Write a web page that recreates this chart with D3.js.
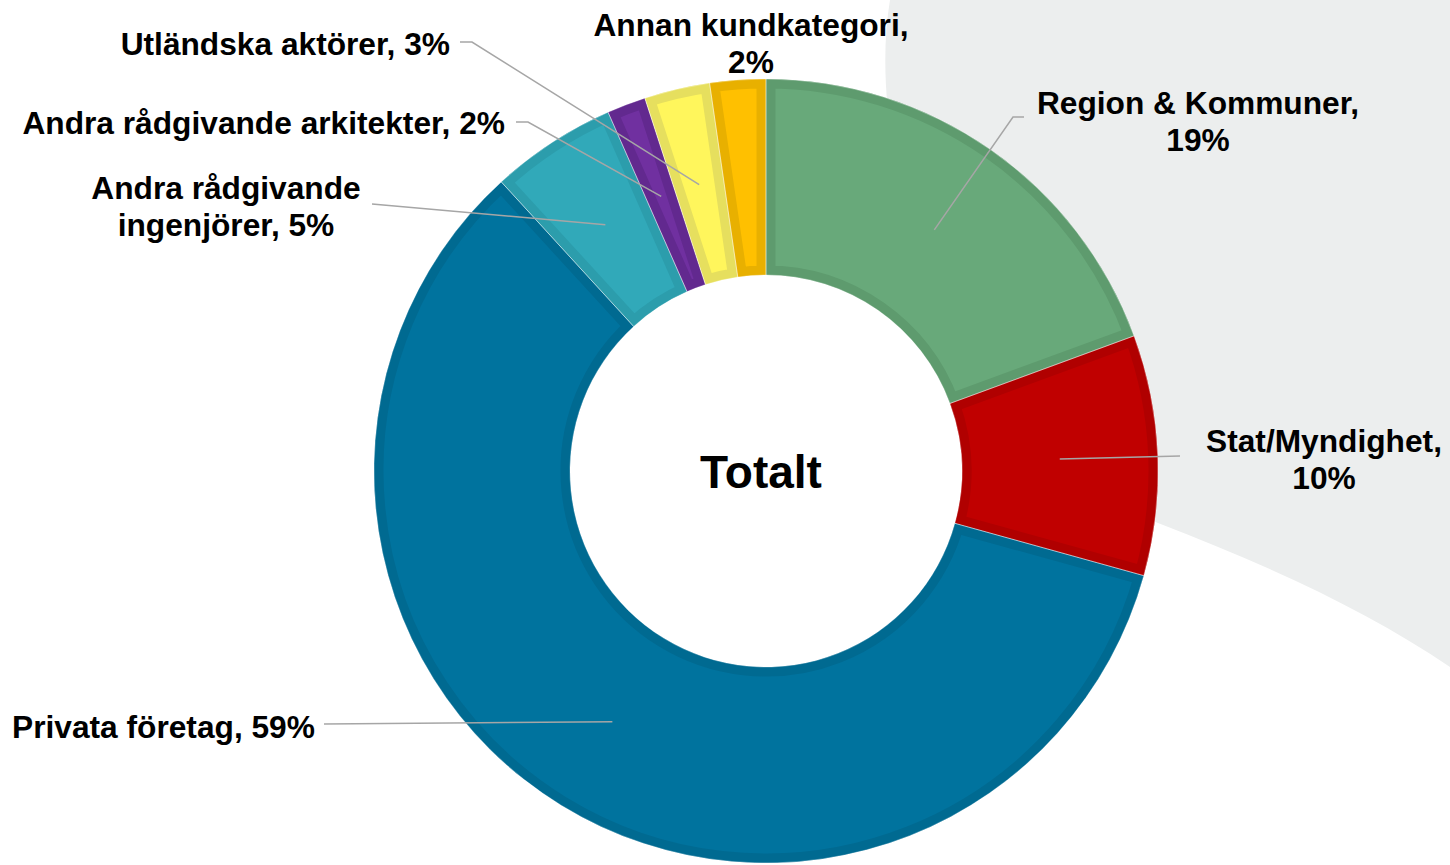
<!DOCTYPE html>
<html>
<head>
<meta charset="utf-8">
<script src="https://cdn.jsdelivr.net/npm/d3@7"></script>
<style>
  html, body { margin: 0; padding: 0; background: #fff; }
  text { font-family: "Liberation Sans", Arial, sans-serif; font-weight: bold; fill: #000; }
</style>
</head>
<body>
<svg id="chart" width="1450" height="865"></svg>
<script>
// data (share of total, %)
var categories = ["Region & Kommuner", "Stat/Myndighet", "Privata företag", "Andra rådgivande ingenjörer",
                  "Andra rådgivande arkitekter", "Utländska aktörer", "Annan kundkategori"];
var values = [19.4, 9.9, 58.9, 5.2, 1.6, 2.7, 2.3];
var fills = ["#68a97a", "#c00000", "#00739e", "#31a9b9", "#7030a0", "#fff65c", "#ffc000"];
var borders = ["#5e9b6e", "#b00000", "#006a91", "#2c9dac", "#62298f", "#e6df5e", "#e8b000"];
var centerLabel = "Totalt";

// label placement (x, y of first baseline, anchor, words on first line, leader start / elbow)
var labelLayout = [
  { x: 1198, y: 114, anchor: "middle", firstWords: 3, line: [[1024, 117], [1013, 117]] },
  { x: 1324, y: 452, anchor: "middle", firstWords: 1, line: [[1180, 456]] },
  { x: 12,   y: 738, anchor: "start",  firstWords: 0, line: [[324, 724]] },
  { x: 226,  y: 199, anchor: "middle", firstWords: 2, line: [[372, 204]] },
  { x: 505,  y: 134, anchor: "end",    firstWords: 0, line: [[516, 122], [528, 122]] },
  { x: 450,  y: 55,  anchor: "end",    firstWords: 0, line: [[460, 42], [472, 42]] },
  { x: 751,  y: 36,  anchor: "middle", firstWords: 2, line: null }
];

var svg = d3.select("#chart");
var cx = 766, cy = 471, outerR = 392, innerR = 196;

// grey backdrop shape on the right
svg.append("path")
    .attr("d", "M890,0 C862,170 960,440 1158,523 C1270,566 1370,612 1450,667 L1450,0 Z")
    .attr("fill", "#eceeee");

var data = categories.map(function(c, i) { return { cat: c, value: values[i], i: i }; });

var pie = d3.pie().sort(null).value(function(d) { return d.value; });
var arc = d3.arc().innerRadius(innerR).outerRadius(outerR);

var g = svg.append("g").attr("transform", "translate(" + cx + "," + cy + ")");
var arcs = pie(data);

var defs = svg.append("defs");
defs.selectAll("clipPath")
    .data(arcs)
    .enter().append("clipPath")
      .attr("id", function(d) { return "clip" + d.data.i; })
    .append("path")
      .attr("d", arc);

// slices: fill plus a darker inner border (stroke clipped to the slice)
g.selectAll(".slice")
    .data(arcs)
    .enter().append("path")
      .attr("class", "slice")
      .attr("d", arc)
      .attr("clip-path", function(d) { return "url(#clip" + d.data.i + ")"; })
      .attr("fill", function(d) { return fills[d.data.i]; })
      .attr("stroke", function(d) { return borders[d.data.i]; })
      .attr("stroke-width", 19)
      .attr("stroke-linejoin", "miter");

g.selectAll(".sep")
    .data(arcs)
    .enter().append("path")
      .attr("class", "sep")
      .attr("d", arc)
      .attr("fill", "none")
      .attr("stroke", "#ffffff")
      .attr("stroke-opacity", 0.35)
      .attr("stroke-width", 1);

// leader lines, ending at the middle of each slice
arcs.forEach(function(d) {
  var lay = labelLayout[d.data.i];
  if (!lay.line) return;
  var c = arc.centroid(d);
  var pts = lay.line.concat([[c[0] + cx, c[1] + cy]]);
  svg.append("path")
      .attr("d", d3.line()(pts))
      .attr("fill", "none")
      .attr("stroke", "#a6a6a6")
      .attr("stroke-width", 1.5);
});

// labels
arcs.forEach(function(d) {
  var lay = labelLayout[d.data.i];
  var full = d.data.cat + ", " + Math.round(d.data.value) + "%";
  var words = full.split(" ");
  var lines = lay.firstWords ? [words.slice(0, lay.firstWords).join(" "), words.slice(lay.firstWords).join(" ")] : [full];
  var t = svg.append("text")
      .attr("x", lay.x)
      .attr("y", lay.y)
      .attr("text-anchor", lay.anchor)
      .style("font-size", "31.7px");
  lines.forEach(function(l, k) {
    t.append("tspan")
        .attr("x", lay.x)
        .attr("dy", k ? 36.5 : 0)
        .text(l);
  });
});

svg.append("text")
    .attr("x", cx - 5)
    .attr("y", cy + 17)
    .attr("text-anchor", "middle")
    .style("font-size", "46px")
    .text(centerLabel);
</script>
</body>
</html>
